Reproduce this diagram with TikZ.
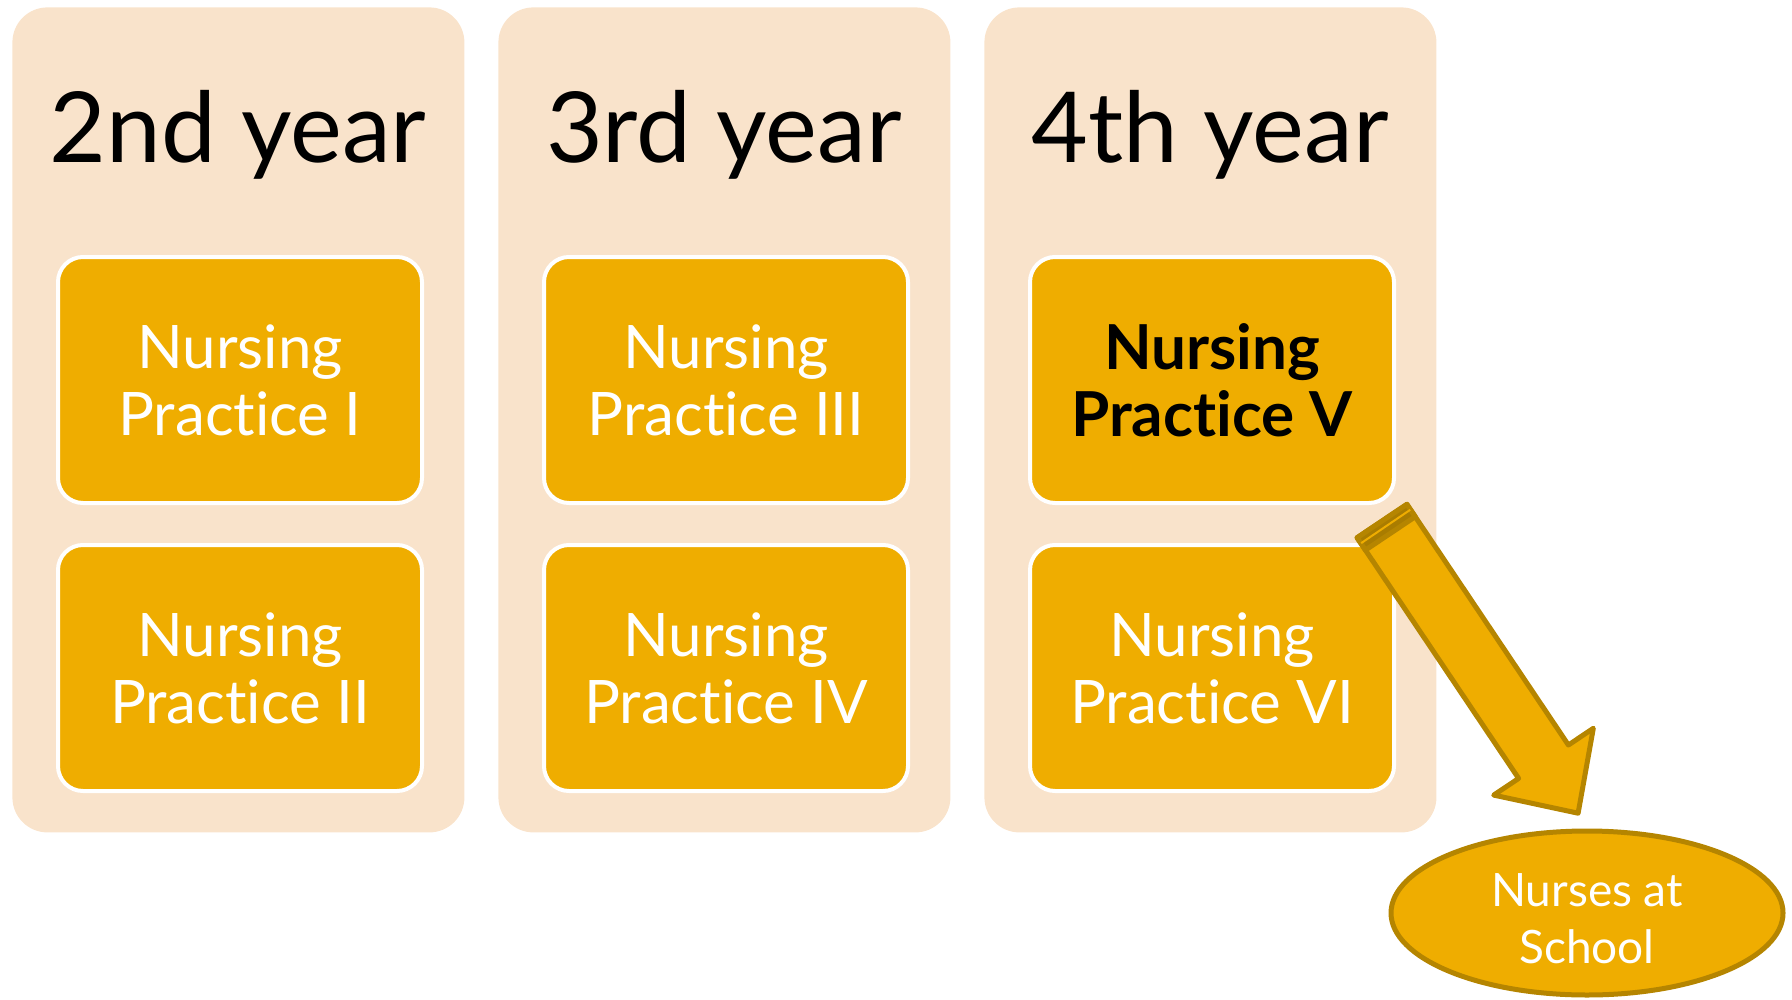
\documentclass[tikz,border=0pt]{standalone}
\usepackage{fontspec}
\setmainfont{Lato}[Ligatures=NoCommon]
\usetikzlibrary{shapes.geometric}
\definecolor{panelc}{HTML}{F9E3CB}
\definecolor{gold}{HTML}{EFAD00}
\definecolor{goldline}{HTML}{B58500}
\definecolor{golddark}{HTML}{A97C00}
\begin{document}
\begin{tikzpicture}[x=0.5pt,y=-0.5pt,
  panelbox/.style={fill=panelc, draw=none, rounded corners=17.5pt, minimum width=226pt, minimum height=412.5pt, anchor=north west, inner sep=0pt},
  heading/.style={anchor=base, font=\fontsize{49}{58}\selectfont, text=black, inner sep=0pt},
  practice/.style={fill=gold, draw=white, line width=2pt, rounded corners=12.5pt, minimum width=182pt, minimum height=123pt, anchor=north west, inner sep=0pt},
  ptext/.style={align=center, font=\fontsize{30}{33.5}\selectfont, text=white, inner sep=0pt},
  goal/.style={ellipse, fill=gold, draw=goldline, line width=2.5pt, minimum width=196pt, minimum height=82pt, inner sep=0pt, align=center, font=\fontsize{23}{28.5}\selectfont, text=white}
]
\useasboundingbox (0,0) rectangle (1792,1000);
% panels
\node[panelbox] (p2) at (12,7) {};
\node[panelbox] (p3) at (498,7) {};
\node[panelbox] (p4) at (984,7) {};
% headings
\node[heading] (h2) at (238,163) {2nd year};
\node[heading] (h3) at (724,163) {3rd year};
\node[heading] (h4) at (1210,163) {4th year};
% practice boxes
\node[practice] (b1) at (56,255) {};
\node[practice] (b2) at (56,543) {};
\node[practice] (b3) at (542,255) {};
\node[practice] (b4) at (542,543) {};
\node[practice] (b5) at (1028,255) {};
\node[practice] (b6) at (1028,543) {};
\node[ptext] (t1) at (b1.center) {Nursing\\Practice I};
\node[ptext] (t2) at (b2.center) {Nursing\\Practice II};
\node[ptext] (t3) at (b3.center) {Nursing\\Practice III};
\node[ptext] (t4) at (b4.center) {Nursing\\Practice IV};
\node[ptext, text=black, font=\fontsize{31}{33.5}\selectfont\bfseries] (t5) at (b5.center) {Nursing\\Practice V};
\node[ptext] (t6) at (b6.center) {Nursing\\Practice VI};
% goal ellipse
\node[goal] (g) at (1587,913) {};
\node[align=center, font=\fontsize{23}{28.5}\selectfont, text=white, inner sep=0pt] (gt) at (1587,919) {Nurses at\\School};
% block arrow
\coordinate (a1) at (1406.9,504.3);
\coordinate (a2) at (1357.1,537.7);
\coordinate (a3) at (1518.6,778.4);
\coordinate (a4) at (1493.7,795.1);
\coordinate (a5) at (1578.1,813.2);
\coordinate (a6) at (1593.3,728.3);
\coordinate (a7) at (1568.4,745.0);
\coordinate (c1) at (1415.2,516.7);
\coordinate (c2) at (1365.4,550.1);
\coordinate (d1) at (1410.2,509.8);
\coordinate (d2) at (1361.2,543.1);
\draw[fill=gold, draw=goldline, line width=2.5pt, line join=round] (a1) -- (a2) -- (a3) -- (a4) -- (a5) -- (a6) -- (a7) -- cycle;
\draw[fill=golddark, draw=goldline, line width=2.5pt, line join=round] (a1) -- (a2) -- (c2) -- (c1) -- cycle;
\draw[draw=gold, line width=1pt] (d1) -- (d2);
\end{tikzpicture}
\end{document}
